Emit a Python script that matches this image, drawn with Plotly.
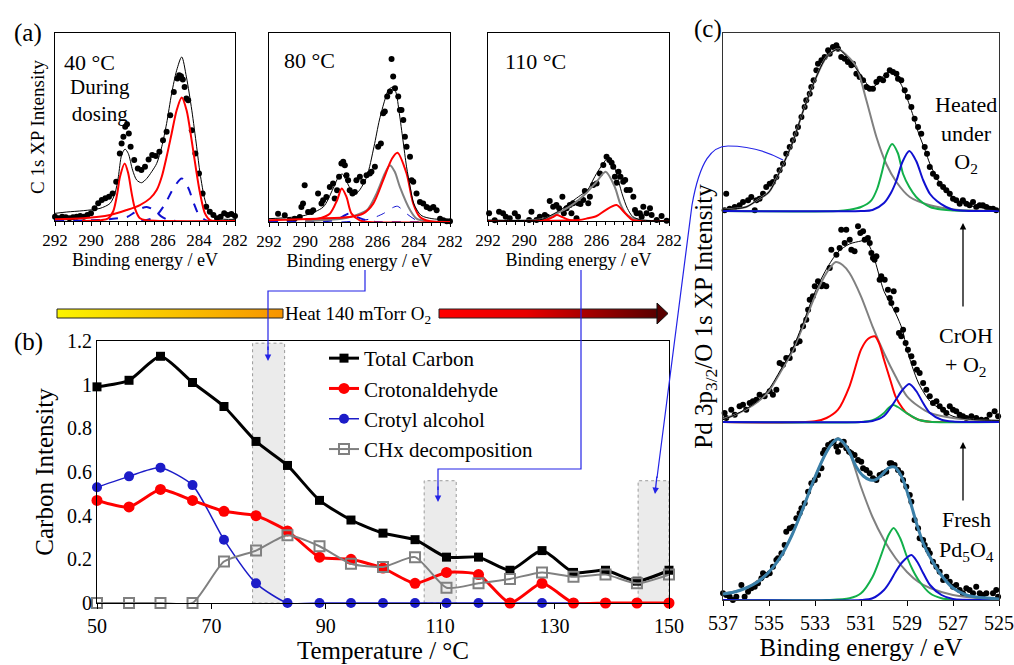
import plotly.graph_objects as go

FONT = "Liberation Serif"
W, H = 1014, 665

# ---------------- panel (b): carbon intensity vs temperature ----------------
temperature = [50, 55.6, 61.1, 66.7, 72.2, 77.8, 83.3, 88.9, 94.4, 100, 105.6,
               111.1, 116.7, 122.2, 127.8, 133.3, 138.9, 144.4, 150]
total_carbon = [0.99, 1.02, 1.13, 1.01, 0.90, 0.74, 0.63, 0.47, 0.38, 0.32, 0.29,
                0.21, 0.21, 0.15, 0.24, 0.14, 0.15, 0.10, 0.15]
crotonaldehyde = [0.47, 0.44, 0.52, 0.47, 0.42, 0.40, 0.33, 0.21, 0.20, 0.16, 0.09,
                  0.14, 0.13, 0.0, 0.09, 0.0, 0.0, 0.0, 0.0]
crotyl_alcohol = [0.53, 0.58, 0.62, 0.54, 0.29, 0.09, 0.0, 0.0, 0.0, 0.0, 0.0,
                  0.0, 0.0, 0.0, 0.0, 0.0, 0.0, 0.0, 0.0]
chx_decomp = [0.0, 0.0, 0.0, 0.0, 0.19, 0.24, 0.31, 0.26, 0.18, 0.165, 0.21,
              0.07, 0.09, 0.11, 0.14, 0.12, 0.13, 0.09, 0.13]
highlight_from = [77.2, 107.2, 144.6]
highlight_to = [82.8, 112.8, 150.0]
highlight_top = [1.19, 0.56, 0.56]

# ---------------- panel (a): C 1s spectra (binding energy, counts) ----------------
a1_dots = [(292.0, 13), (291.8, 8), (291.6, 13), (291.4, 11), (291.2, 8), (291.0, 11), (290.8, 13),
           (290.6, 15), (290.4, 13), (290.2, 18), (290.0, 23), (289.8, 38), (289.6, 53), (289.4, 63),
           (289.2, 68), (289.0, 73), (288.8, 83), (288.6, 118), (288.4, 203), (288.3, 233), (288.2, 253),
           (288.1, 283), (288.0, 291), (287.9, 263), (287.8, 223), (287.6, 183), (287.4, 158), (287.2, 153),
           (287.0, 163), (286.8, 185), (286.6, 198), (286.4, 195), (286.2, 208), (286.0, 243), (285.8, 268),
           (285.6, 318), (285.4, 388), (285.2, 428), (285.1, 438), (285.0, 435), (284.9, 425), (284.8, 403),
           (284.7, 368), (284.6, 363), (284.4, 273), (284.2, 203), (284.0, 143), (283.8, 83), (283.6, 43),
           (283.4, 28), (283.2, 18), (283.0, 8), (282.8, 13), (282.6, 23), (282.4, 18), (282.2, 21), (282.0, 15)]
a1_total = [(292, 23), (291.35, 27), (290.43, 31), (289.5, 38), (288.94, 53), (288.67, 83), (288.48, 133),
            (288.3, 198), (288.11, 216), (287.93, 203), (287.69, 153), (287.46, 123), (287.19, 115),
            (286.9, 128), (286.63, 148), (286.35, 173), (286.07, 223), (285.8, 293), (285.52, 383),
            (285.24, 453), (284.96, 493), (284.7, 433), (284.4, 333), (284.13, 223), (283.94, 143),
            (283.67, 63), (283.4, 23), (283.0, 8), (282, 5)]
a1_red1 = [(290.5, 0), (289.5, 2), (289.04, 8), (288.76, 30), (288.54, 83), (288.39, 133), (288.13, 173),
           (287.93, 143), (287.74, 83), (287.56, 38), (287.28, 8), (286.91, 2), (286.0, 0), (282, 0)]
a1_red2 = [(292, 5), (290.43, 8), (288.94, 18), (288.02, 33), (287.28, 48), (286.72, 68), (286.35, 93),
           (286.07, 133), (285.8, 193), (285.52, 263), (285.24, 333), (284.96, 371), (284.69, 333),
           (284.41, 243), (284.13, 143), (283.94, 83), (283.67, 23), (283.39, 3), (283.0, 0), (282, 0)]
a1_blue1 = [(287.2, 0), (286.6, 8), (286.3, 20), (285.9, 50), (285.4, 100), (284.96, 128), (284.6, 100),
            (284.3, 55), (284.0, 18), (283.6, 2), (283.2, 0), (282, 0)]
a1_blue2 = [(292, 0), (290, 2), (289, 5), (288.5, 8), (288.0, 12), (287.6, 25), (287.2, 38), (286.9, 42),
            (286.5, 33), (286.1, 14), (285.7, 3), (285.3, 0)]

a2_dots = [(291.50, 25), (291.13, 20), (290.86, 5), (290.58, 10), (290.30, 15), (290.21, 45), (290.12, 55),
           (290.03, 110), (289.84, 30), (289.66, 30), (289.56, 35), (289.29, 85), (289.10, 55), (289.01, 65),
           (288.83, 75), (288.64, 105), (288.46, 115), (288.37, 70), (288.24, 95), (288.13, 135), (288.00, 175),
           (287.90, 180), (287.81, 170), (287.72, 140), (287.63, 125), (287.54, 95), (287.39, 85), (287.26, 90),
           (287.17, 125), (286.98, 135), (286.80, 120), (286.61, 140), (286.43, 145), (286.34, 150),
           (286.15, 165), (285.97, 225), (285.82, 235), (285.69, 325), (285.60, 330), (285.47, 375),
           (285.32, 390), (285.23, 487), (285.14, 435), (285.04, 400), (284.86, 375), (284.77, 335),
           (284.68, 335), (284.58, 305), (284.49, 255), (284.40, 225), (284.21, 195), (284.12, 125),
           (284.03, 120), (283.85, 85), (283.66, 60), (283.48, 55), (283.29, 45), (283.11, 40), (282.92, 45),
           (282.74, 35), (282.55, 10), (282.37, 5), (282.18, 2), (282.00, 2)]
a2_total = [(292, 10), (291, 13), (290, 20), (289, 45), (288.5, 95), (288.1, 140), (287.94, 143), (287.8, 130),
            (287.5, 100), (287.2, 85), (287.0, 95), (286.6, 135), (286.2, 225), (285.9, 305), (285.6, 365),
            (285.4, 395), (285.17, 403), (285.0, 390), (284.8, 325), (284.6, 245), (284.4, 165), (284.2, 105),
            (284.0, 55), (283.6, 20), (283.0, 10), (282, 7)]
a2_red1 = [(290, 8), (289.3, 10), (288.64, 25), (288.24, 65), (287.98, 100), (287.72, 75), (287.44, 25),
           (286.98, 5), (286.5, 0), (282, 0)]
a2_red2 = [(292, 5), (289.38, 10), (287.54, 15), (286.8, 25), (286.24, 55), (285.69, 125), (285.2, 190),
           (284.9, 207), (284.4, 145), (284.03, 55), (283.66, 15), (283.1, 2), (282, 0)]
a2_gray = [(290, 3), (288, 10), (287.54, 15), (286.6, 35), (286.06, 85), (285.6, 145), (285.32, 170),
           (285.05, 150), (284.77, 105), (284.2, 35), (283.85, 10), (283.3, 2), (282, 0)]
a2_blue1 = [(288, 0), (286.5, 8), (285.69, 25), (285.2, 42), (284.9, 47), (284.4, 25), (283.85, 5), (283.3, 0)]
a2_blue2 = [(292, 0), (289, 2), (288.2, 8), (287.6, 25), (287.0, 12), (286.5, 3), (286.0, 0), (282, 0)]

a3_dots = [(291.94, 23), (291.63, 2), (291.39, 28), (291.17, 23), (291.02, 13), (290.80, 8), (290.52, 23),
           (290.34, 13), (289.73, 3), (289.60, 28), (289.32, 3), (289.14, 13), (288.86, 18), (288.73, 13),
           (288.59, 60), (288.40, 43), (288.22, 48), (288.07, 38), (287.89, 73), (287.81, 23), (287.66, 38),
           (287.48, 48), (287.39, 23), (287.30, 53), (287.11, 8), (287.02, 53), (286.89, 51), (286.74, 63),
           (286.65, 90), (286.46, 53), (286.37, 73), (286.19, 108), (286.00, 113), (285.82, 143),
           (285.63, 168), (285.45, 193), (285.30, 183), (285.17, 175), (285.08, 163), (284.99, 133),
           (284.90, 115), (284.79, 148), (284.68, 133), (284.53, 118), (284.42, 123), (284.34, 93),
           (284.16, 93), (283.97, 73), (283.88, 33), (283.79, 23), (283.61, 23), (283.51, 13), (283.42, 43),
           (283.24, 23), (283.05, 38), (282.96, 18), (282.68, 3), (282.41, 15), (282.13, 1)]
a3_total = [(292, 3), (289, 5), (288.5, 18), (288, 33), (287.5, 53), (287, 73), (286.5, 93), (286.2, 123),
            (286, 143), (285.7, 168), (285.5, 183), (285.3, 191), (285.1, 173), (284.9, 143), (284.6, 83),
            (284.3, 38), (284, 13), (283.5, 3), (282, 1)]
a3_gray = [(292, 0), (289, 5), (288.5, 15), (288, 28), (287.5, 43), (287, 63), (286.5, 88), (286, 118),
           (285.5, 148), (285, 103), (284.7, 53), (284.4, 23), (284, 8), (283, 0), (282, 0)]
a3_red1 = [(289.5, 0), (288.8, 3), (288.4, 12), (288.2, 18), (287.9, 12), (287.5, 3), (287, 0)]
a3_red2 = [(292, 0), (287, 3), (286.5, 8), (286, 15), (285.5, 33), (284.9, 48), (284.5, 28), (284.2, 11),
           (284, 3), (283.5, 0), (282, 0)]

# ---------------- panel (c): Pd 3p3/2 / O 1s spectra ----------------
c_top_dots = [(536.93, 0.7), (536.86, 17.3), (536.71, 2.3), (536.49, 4), (536.28, 5.7), (536.13, 9),
              (535.91, 10.7), (535.77, 14), (535.62, 0.7), (535.55, 10.7), (535.41, 12.3), (535.26, 17.3),
              (535.12, 24), (534.97, 27.3), (534.83, 29), (534.68, 34), (534.54, 40.7), (534.39, 47.3),
              (534.25, 57.3), (534.10, 64), (533.96, 70.7), (533.84, 77.3), (533.74, 84), (533.59, 94),
              (533.45, 104), (533.38, 110.7), (533.23, 117.3), (533.16, 124), (533.06, 130.7), (532.94, 140.7),
              (532.87, 147.3), (532.72, 150.7), (532.58, 154), (532.43, 160.7), (532.36, 157.3), (532.22, 164),
              (532.07, 165.7), (532.00, 162.3), (531.86, 154), (531.71, 152.3), (531.57, 149), (531.42, 145.7),
              (531.35, 147.3), (531.20, 137.3), (531.06, 134), (530.91, 130.7), (530.77, 124), (530.62, 122.3),
              (530.48, 122.3), (530.33, 129), (530.19, 132.3), (530.04, 130.7), (529.90, 135.7),
              (529.75, 140.7), (529.61, 139), (529.46, 137.3), (529.39, 132.3), (529.25, 130.7), (529.10, 120.7),
              (528.96, 114), (528.81, 104), (528.67, 92.3), (528.52, 84), (528.38, 77.3), (528.23, 64),
              (528.13, 57.3), (528.01, 44), (527.87, 37.3), (527.72, 34), (527.58, 27.3), (527.43, 24),
              (527.29, 20.7), (527.14, 17.3), (527.00, 12.3), (526.86, 10.7), (526.71, 7.3), (526.57, 10.7),
              (526.42, 7.3), (526.28, 5.7), (526.13, 9), (525.99, 4), (525.84, 5.7), (525.70, 5.7),
              (525.55, 4), (525.41, 2.3), (525.26, 2.3), (525.12, 0.7)]
c_top_total = [(537, 1.3), (536, 4), (535.5, 11), (535, 19), (534.5, 41), (534, 67), (533.5, 101), (533, 131),
               (532.5, 154), (532, 162), (531.8, 159), (531.5, 151), (531, 136), (530.7, 126), (530.5, 124),
               (530.2, 129), (530, 136), (529.75, 139), (529.5, 136), (529.2, 124), (529, 113), (528.7, 93),
               (528.5, 78), (528.2, 60), (528, 47), (527.5, 25), (527, 13), (526.5, 7), (526, 4), (525, 1)]
c_top_gray = [(537, 1.3), (536, 4), (535.5, 11), (535, 19), (534.5, 41), (534, 67), (533.5, 101), (533, 131),
              (532.5, 154), (532, 162), (531.64, 156), (531.2, 144), (530.77, 111), (530.33, 74), (529.9, 47),
              (529.46, 29), (528.88, 14), (528, 5.7), (526.86, 1.3), (525, 0.3)]
c_top_green = [(537, 0), (532, 0), (531.5, 1.3), (531, 4), (530.55, 10.7), (530.3, 22), (530.1, 38),
               (529.9, 56), (529.65, 67), (529.4, 58), (529.17, 37), (528.9, 24), (528.6, 14), (528.3, 8),
               (528, 4), (527.5, 1.5), (527, 0.5), (525, 0)]
c_top_blue = [(537, 0), (531, 0), (530.5, 1), (530, 8), (529.7, 18), (529.45, 31), (529.2, 49), (528.9, 60),
              (528.6, 50), (528.3, 31), (528, 17), (527.7, 10), (527.3, 4), (527, 1.3), (526.5, 0.3), (525, 0)]

c_mid_dots = [(536.93, 9), (536.86, 4), (536.64, 12.3), (536.49, 7.3), (536.28, 15.7), (536.13, 17.3),
              (535.99, 12.3), (535.84, 19), (535.70, 20.7), (535.55, 22.3), (535.41, 27.3), (535.19, 25.7),
              (534.97, 30.7), (534.83, 27.3), (534.68, 32.3), (534.54, 59), (534.39, 57.3), (534.25, 64),
              (534.10, 64), (533.96, 72.3), (533.81, 79), (533.67, 80.7), (533.52, 95.7), (533.38, 102.3),
              (533.30, 112.3), (533.23, 122.3), (533.09, 125.7), (533.01, 135.7), (532.87, 140.7),
              (532.72, 135.7), (532.65, 137.3), (532.51, 135.7), (532.36, 154), (532.29, 172.3), (532.07, 167.3),
              (531.93, 174), (531.86, 192.3), (531.71, 179), (531.64, 192.3), (531.49, 182.3), (531.42, 172.3),
              (531.28, 170.7), (531.13, 195.7), (531.03, 189), (530.91, 190.7), (530.84, 182.3), (530.70, 184),
              (530.62, 179), (530.55, 169), (530.48, 164), (530.41, 162.3), (530.33, 165.7), (530.19, 142.3),
              (530.12, 145.7), (529.97, 142.3), (529.83, 132.3), (529.75, 124), (529.68, 119), (529.58, 130.7),
              (529.46, 112.3), (529.35, 89), (529.25, 85.7), (529.17, 92.3), (529.06, 79), (528.96, 72.3),
              (528.81, 65.7), (528.71, 59), (528.57, 52.3), (528.45, 49), (528.30, 39), (528.16, 32.3),
              (528.01, 25.7), (527.87, 19), (527.72, 20.7), (527.58, 15.7), (527.43, 12.3), (527.29, 9),
              (527.14, 15.7), (527.00, 12.3), (526.86, 10.7), (526.71, 7.3), (526.57, 5.7), (526.42, 4),
              (526.20, 5.7), (525.99, 4), (525.77, 2.3), (525.55, 2.3), (525.41, 7.3), (525.19, 10.7),
              (525.04, 5.7)]
c_mid_total = [(537, 2.3), (536.5, 7), (536, 13), (535.5, 21), (535, 33), (534.5, 52), (534, 72), (533.5, 100),
               (533, 130), (532.5, 153), (532, 170), (531.5, 178), (531, 181), (530.8, 182), (530.5, 169),
               (530.2, 145.7), (530, 130.7), (529.5, 109), (529.2, 92.3), (529, 72.3), (528.5, 39), (528, 20.7),
               (527.5, 12.3), (527, 5.7), (526, 2.3), (525, 1.7)]
c_mid_gray = [(537, 3), (536.5, 7), (536, 12.5), (535.5, 20), (535, 31), (534.5, 50), (534, 70), (533.5, 97),
              (533, 126), (532.5, 149), (532.1, 160), (531.8, 157), (531.5, 149), (531, 125.7), (530.5, 95.7),
              (530, 69), (529.5, 45.7), (529, 25.7), (528.5, 15.7), (528, 9), (527, 4), (526, 2), (525, 1)]
c_mid_red = [(537, 0), (533, 0.7), (532.5, 4), (532, 12.3), (531.5, 35.7), (531, 72.3), (530.7, 83),
             (530.4, 85.7), (530.2, 78), (530, 62.3), (529.7, 40), (529.5, 25.7), (529.2, 14), (529, 8.7),
             (528.5, 2.3), (528, 0.3), (527, 0), (525, 0)]
c_mid_green = [(537, 0), (531, 0), (530.5, 1.7), (530, 9), (529.8, 14), (529.6, 17), (529.4, 15), (529.0, 8.7),
               (528.5, 2.3), (528, 0.3), (525, 0)]
c_mid_blue = [(537, 0), (531, 0), (530.5, 1), (530, 6), (529.5, 21.7), (529.2, 32), (528.9, 38), (528.6, 31),
              (528.3, 19), (528, 9), (527.5, 2.3), (527, 0.5), (525, 0)]

c_bot_dots = [(537.00, 6.7), (536.86, 5), (536.71, 3.3), (536.57, 0), (536.42, 3.3), (536.20, 15),
              (536.06, 3.3), (535.91, 8.3), (535.77, 11.7), (535.62, 13.3), (535.48, 16.7), (535.33, 21.7),
              (535.26, 26.7), (535.12, 25), (534.97, 26.7), (534.83, 33.3), (534.68, 40), (534.61, 41.7),
              (534.46, 46.7), (534.32, 55), (534.25, 68.3), (534.10, 71.7), (533.96, 73.3), (533.81, 81.7),
              (533.67, 86.7), (533.59, 91.7), (533.45, 96.7), (533.30, 108.3), (533.16, 116.7), (533.01, 120),
              (532.87, 125), (532.72, 131.7), (532.65, 146.7), (532.58, 150), (532.43, 155), (532.29, 156.7),
              (532.19, 158.3), (532.07, 153.3), (532.00, 148.3), (531.86, 155), (531.75, 158.3), (531.64, 151.7),
              (531.52, 148.3), (531.42, 146.7), (531.28, 145), (531.13, 140), (530.99, 138.3), (530.91, 131.7),
              (530.77, 130), (530.62, 126.7), (530.48, 121.7), (530.33, 120), (530.19, 125), (530.04, 126.7),
              (529.90, 128.3), (529.75, 136.7), (529.68, 136.7), (529.54, 135), (529.39, 130), (529.25, 126.7),
              (529.17, 120), (529.03, 113.3), (528.88, 105), (528.81, 98.3), (528.67, 80), (528.52, 71.7),
              (528.45, 61.7), (528.30, 60), (528.23, 55), (528.09, 50), (528.01, 46.7), (527.87, 38.3),
              (527.72, 33.3), (527.58, 28.3), (527.43, 20), (527.29, 23.3), (527.14, 18.3), (527.00, 13.3),
              (526.86, 15), (526.71, 10), (526.57, 6.7), (526.42, 11.7), (526.28, 10), (526.13, 6.7),
              (525.99, 13.3), (525.84, 6.7), (525.70, 5), (525.55, 6.7), (525.41, -1.7), (525.26, 6.7),
              (525.12, 10), (525.04, 3.3)]
c_bot_total = [(537, 6), (536.5, 8), (536, 12), (535.5, 18), (535, 28), (534.5, 43), (534, 65), (533.5, 93),
               (533, 123), (532.5, 148), (532.2, 158), (532, 161), (531.75, 157), (531.5, 148), (531.2, 133),
               (530.9, 124), (530.6, 120), (530.4, 120), (530.1, 125), (529.8, 132), (529.54, 133),
               (529.35, 128), (529.17, 120), (528.88, 100), (528.59, 77), (528.3, 57), (528, 43), (527.58, 27),
               (527, 12), (526.42, 5), (526, 3), (525, 1)]
c_bot_gray = [(537, 6), (536, 12), (535, 28), (534.5, 43), (534, 65), (533.5, 93), (533, 123), (532.5, 148),
              (532.2, 158), (532, 162), (531.8, 157), (531.5, 147), (531, 113), (530.5, 83), (530, 60),
              (529.5, 42), (529, 28), (528.5, 18), (528, 12), (527, 5), (526, 2), (525, 1)]
c_bot_green = [(537, 0), (532.5, 0), (531.5, 1.7), (531, 6.7), (530.5, 23), (530.2, 40), (530, 53), (529.8, 65),
               (529.58, 72), (529.3, 62), (529, 43), (528.75, 30), (528.5, 20), (528, 6.7), (527.5, 1.7),
               (527, 0.3), (525, 0)]
c_bot_blue = [(537, 0), (531, 0), (530.5, 1.7), (530, 10), (529.75, 18), (529.5, 28), (529.2, 38), (528.81, 45),
              (528.55, 38), (528.3, 27), (528, 15), (527.5, 5), (527, 1), (526.5, 0.2), (525, 0)]

# vertical offsets of the stacked spectra in panel (c) (layout, not data)
OFFSET_TOP, OFFSET_MID, OFFSET_BOT = 389, 178, 0

# ---------------- helpers ----------------
def xs(pairs):
    return [p[0] for p in pairs]


def ys(pairs, off=0):
    return [p[1] + off for p in pairs]


fig = go.Figure()


def curve(pairs, ax, color, width=2, dash="solid", off=0):
    fig.add_trace(go.Scatter(x=xs(pairs), y=ys(pairs, off), mode="lines", xaxis="x" + ax, yaxis="y" + ax,
                             line=dict(color=color, width=width, dash=dash, shape="spline", smoothing=0.8),
                             showlegend=False, hoverinfo="skip"))


def dots(pairs, ax, off=0, size=6):
    fig.add_trace(go.Scatter(x=xs(pairs), y=ys(pairs, off), mode="markers", xaxis="x" + ax, yaxis="y" + ax,
                             marker=dict(color="black", size=size), cliponaxis=False,
                             showlegend=False, hoverinfo="skip"))


RED, BLUE, GRAY, GREEN, TEAL = "#ff0000", "#1010d0", "#808080", "#12b04a", "#3a7fa8"

# panel (a)
dots(a1_dots, "")
curve(a1_blue2, "", BLUE, 2, "dash")
curve(a1_blue1, "", BLUE, 2, "dash")
curve(a1_red1, "", RED, 2)
curve(a1_red2, "", RED, 2)
curve(a1_total, "", "black", 1)

dots(a2_dots, "2")
curve(a2_blue2, "2", BLUE, 2, "dash")
curve(a2_blue1, "2", BLUE, 1, "dash")
curve(a2_gray, "2", GRAY, 2)
curve(a2_red1, "2", RED, 2)
curve(a2_red2, "2", RED, 2)
curve(a2_total, "2", "black", 1)

dots(a3_dots, "3")
curve(a3_gray, "3", GRAY, 2)
curve(a3_red1, "3", RED, 2)
curve(a3_red2, "3", RED, 2)
curve(a3_total, "3", "black", 1)

# panel (c)
for d, tot, gr, extra, off, totcol, totw in [
        (c_top_dots, c_top_total, c_top_gray, [(c_top_green, GREEN), (c_top_blue, BLUE)], OFFSET_TOP, "black", 1),
        (c_mid_dots, c_mid_total, c_mid_gray,
         [(c_mid_red, RED), (c_mid_green, GREEN), (c_mid_blue, BLUE)], OFFSET_MID, "black", 1),
        (c_bot_dots, c_bot_total, c_bot_gray, [(c_bot_green, GREEN), (c_bot_blue, BLUE)], OFFSET_BOT, TEAL, 3)]:
    dots(d, "5", off, 6)
    curve(gr, "5", GRAY, 2, off=off)
    for pairs, col in extra:
        curve(pairs, "5", col, 2, off=off)
    curve(tot, "5", totcol, totw, off=off)

# panel (b)
series = [
    ("Total Carbon", total_carbon, "black", 3, "square", 9, "black", 1),
    ("Crotyl alcohol", crotyl_alcohol, "#1c1cc8", 1.5, "circle", 10, "#1c1cc8", 3),
    ("Crotonaldehyde", crotonaldehyde, RED, 3, "circle", 11, RED, 2),
    ("CHx decomposition", chx_decomp, GRAY, 2, "square-open", 10, GRAY, 4),
]
for name, vals, col, lw, sym, ms, mcol, rank in series:
    fig.add_trace(go.Scatter(
        x=temperature, y=vals, name=name, mode="lines+markers", xaxis="x4", yaxis="y4",
        line=dict(color=col, width=lw, shape="spline", smoothing=0.6),
        marker=dict(symbol=sym, size=ms, color=mcol, line=dict(width=2 if sym == "square-open" else 0, color=mcol)),
        legendrank=rank, cliponaxis=False))

# highlight regions in (b)
shapes = []
for lo, hi, top in zip(highlight_from, highlight_to, highlight_top):
    shapes.append(dict(type="rect", xref="x4", yref="y4", x0=lo, x1=hi, y0=0, y1=top, layer="below",
                       fillcolor="#ebebeb", line=dict(color="#9a9a9a", width=1, dash="dot")))

# ---------------- overlay (pixel) axis for decorations ----------------
fig.add_trace(go.Scatter(x=[57, 283, 283, 57, 57], y=[309, 309, 318, 318, 309], xaxis="x6", yaxis="y6",
                         mode="lines", fill="toself", line=dict(color="#222", width=1),
                         fillgradient=dict(type="horizontal", colorscale=[[0, "#fbf400"], [1, "#f79400"]]),
                         showlegend=False, hoverinfo="skip"))
fig.add_trace(go.Scatter(x=[439, 657, 657, 439, 439], y=[309, 309, 318, 318, 309], xaxis="x6", yaxis="y6",
                         mode="lines", fill="toself", line=dict(color="#222", width=1),
                         fillgradient=dict(type="horizontal",
                                           colorscale=[[0, "#ff0000"], [0.4, "#e80000"], [1, "#5a0000"]]),
                         showlegend=False, hoverinfo="skip"))
fig.add_trace(go.Scatter(x=[657, 668, 657, 657], y=[303, 313.5, 324, 303], xaxis="x6", yaxis="y6",
                         mode="lines", fill="toself", fillcolor="#580000", line=dict(color="#111", width=1),
                         showlegend=False, hoverinfo="skip"))

LINK = "#2323e6"
shapes += [
    dict(type="path", xref="x6", yref="y6", path="M 365,270 L 365,291 L 268,291 L 268,350",
         line=dict(color=LINK, width=1.2), layer="above"),
    dict(type="path", xref="x6", yref="y6", path="M 581,270 L 581,469 L 438,469 L 438,490",
         line=dict(color=LINK, width=1.2), layer="above"),
    dict(type="path", xref="x6", yref="y6",
         path="M 783,160 C 765,150 745,146 728,146 C 712,146 700,160 692,205 L 657,478",
         line=dict(color=LINK, width=1.2), layer="above"),
]

ann = []


def text(x, y, s, size=22, xanchor="center"):
    ann.append(dict(x=x, y=y, xref="x6", yref="y6", text=s, showarrow=False, xanchor=xanchor, yanchor="middle",
                    font=dict(family=FONT, size=size, color="black")))


def arrow(x, y, ax, ay, color):
    ann.append(dict(x=x, y=y, ax=ax, ay=ay, xref="x6", yref="y6", axref="x6", ayref="y6", text="",
                    showarrow=True, arrowhead=2, arrowsize=1, arrowwidth=1.3, arrowcolor=color, standoff=0))


text(28, 33, "(a)", 25)
text(28, 342, "(b)", 25)
text(708, 29, "(c)", 25)
text(62, 62, "40 °C", 22, "left")
text(100, 100, "During<br>dosing", 21)
text(282, 60, "80 °C", 22, "left")
text(503, 61, "110 °C", 22, "left")
text(966, 134, "Heated<br>under<br>O<sub>2</sub>", 22)
text(966, 335, "CrOH", 22)
text(966, 366, "+ O<sub>2</sub>", 22)
text(966, 519, "Fresh", 22)
text(966, 551, "Pd<sub>5</sub>O<sub>4</sub>", 22)
text(283, 315, "Heat 140 mTorr O<sub>2</sub>", 19, "left")

arrow(963, 223, 963, 308, "black")
arrow(963, 442, 963, 502, "black")
arrow(268, 361, 268, 345, LINK)
arrow(438, 502, 438, 485, LINK)
arrow(655, 494, 657, 475, LINK)


# ---------------- layout ----------------
def dom_x(a, b):
    return [a / W, b / W]


def dom_y(top, bottom):
    return [1 - bottom / H, 1 - top / H]


tickfont_a = dict(family=FONT, size=17, color="black")
ax_common = dict(showline=True, mirror=True, linecolor="black", linewidth=1, showgrid=False, zeroline=False,
                 automargin=False)
a_x = dict(ax_common, range=[292, 282], tick0=282, dtick=2, ticks="outside", ticklen=4, tickcolor="black",
           tickfont=tickfont_a, minor=dict(dtick=0.5, ticks="outside", ticklen=3, tickcolor="black"),
           title=dict(text="Binding energy / eV", font=dict(family=FONT, size=18, color="black"), standoff=2))
a_y = dict(ax_common, range=[0, 565], showticklabels=False, ticks="")

layout = dict(
    template="none",
    width=W, height=H, margin=dict(l=0, r=0, t=0, b=0, pad=0), autosize=False,
    paper_bgcolor="white", plot_bgcolor="rgba(0,0,0,0)",
    font=dict(family=FONT, color="black"),
    showlegend=True,
    legend=dict(x=324 / W, y=1 - 338 / H, xanchor="left", yanchor="top", bgcolor="rgba(0,0,0,0)",
                borderwidth=0, font=dict(family=FONT, size=21, color="black"), tracegroupgap=0),
    xaxis=dict(a_x, domain=dom_x(55, 235), anchor="y"),
    yaxis=dict(a_y, domain=dom_y(33, 221), anchor="x",
               title=dict(text="C 1s XP Intensity", font=dict(family=FONT, size=19, color="black"), standoff=4)),
    xaxis2=dict(a_x, domain=dom_x(269, 450), anchor="y2"),
    yaxis2=dict(a_y, domain=dom_y(33, 222), anchor="x2"),
    xaxis3=dict(a_x, domain=dom_x(488, 669), anchor="y3"),
    yaxis3=dict(a_y, domain=dom_y(33, 221), anchor="x3"),
    xaxis4=dict(ax_common, domain=dom_x(97, 669), anchor="y4", range=[50, 150], tick0=50, dtick=20,
                ticks="outside", ticklen=5, tickcolor="black",
                tickfont=dict(family=FONT, size=20, color="black"),
                title=dict(text="Temperature / °C", font=dict(family=FONT, size=25, color="black"), standoff=4)),
    yaxis4=dict(ax_common, domain=dom_y(341, 603), anchor="x4", range=[0, 1.2], dtick=0.2, ticks="",
                tickfont=dict(family=FONT, size=20, color="black"),
                title=dict(text="Carbon Intensity", font=dict(family=FONT, size=25, color="black"), standoff=6)),
    xaxis5=dict(ax_common, domain=dom_x(723, 999), anchor="y5", range=[537, 525], tick0=525, dtick=2,
                ticks="outside", ticklen=5, tickcolor="black", linecolor="#333",
                tickfont=dict(family=FONT, size=20, color="black"),
                title=dict(text="Binding energy / eV", font=dict(family=FONT, size=25, color="black"), standoff=4)),
    yaxis5=dict(ax_common, domain=dom_y(33, 600), anchor="x5", range=[0, 567], showticklabels=False, ticks="",
                linecolor="#333",
                title=dict(text="Pd 3p<sub>3/2</sub>/O 1s XP Intensity",
                           font=dict(family=FONT, size=25, color="black"), standoff=2)),
    xaxis6=dict(domain=[0, 1], range=[0, W], visible=False, anchor="y6", fixedrange=True, automargin=False),
    yaxis6=dict(domain=[0, 1], range=[H, 0], visible=False, anchor="x6", fixedrange=True, automargin=False),
    shapes=shapes,
    annotations=ann,
)
fig.update_layout(**layout)
fig.write_html("out.html")
